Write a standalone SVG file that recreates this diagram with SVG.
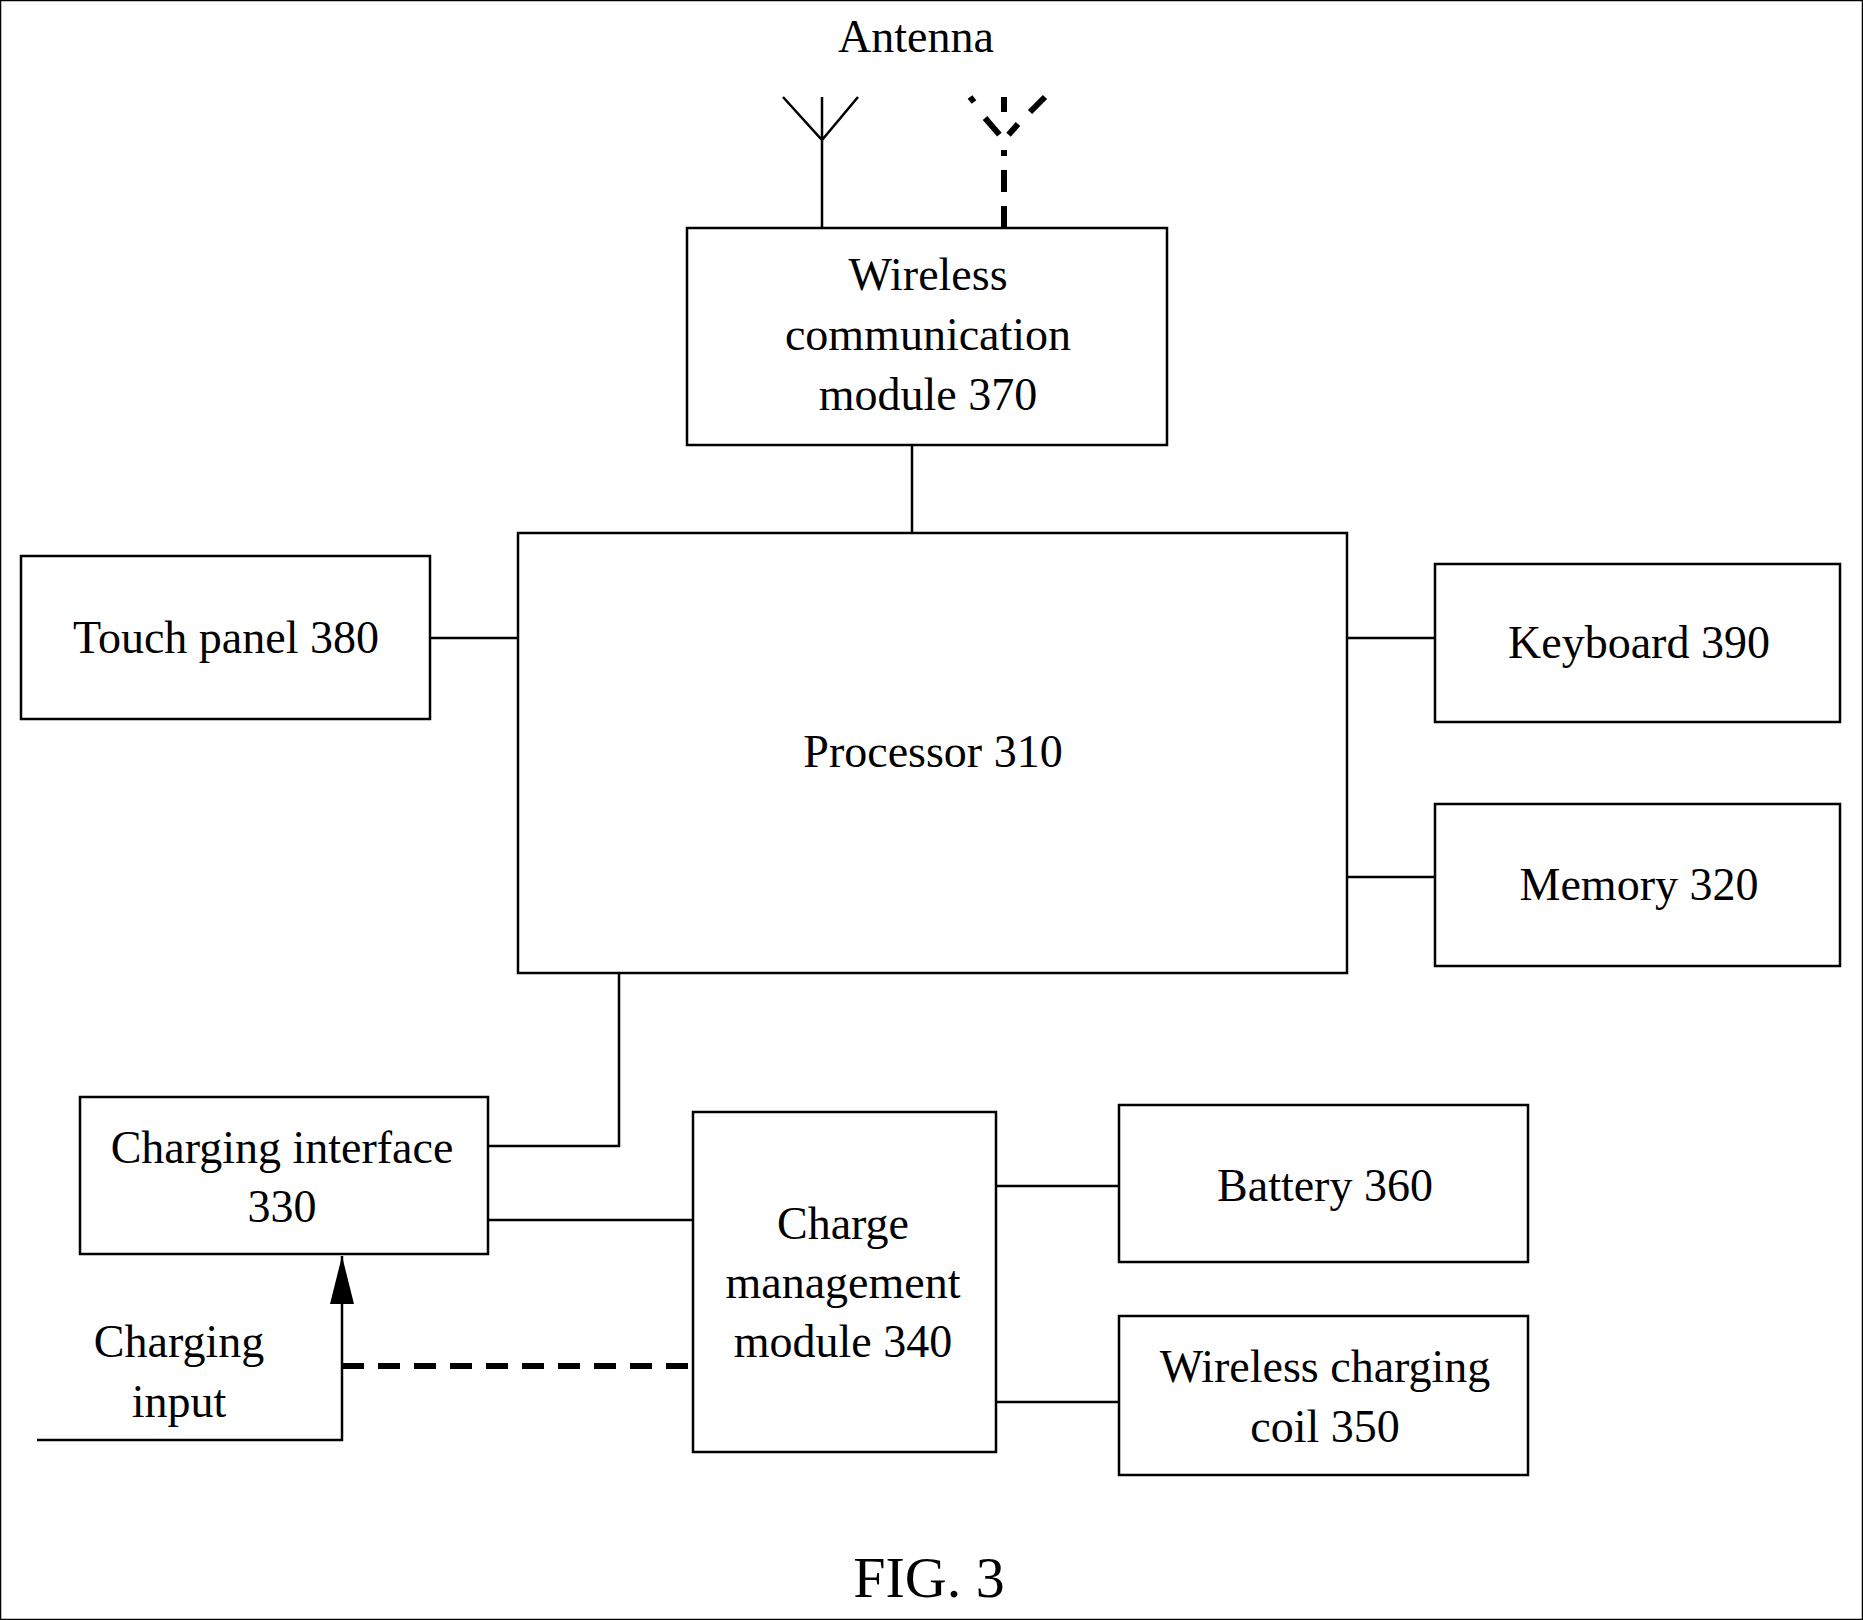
<svg xmlns="http://www.w3.org/2000/svg" width="1863" height="1620" viewBox="0 0 1863 1620">
<style>
text{font-family:"Liberation Serif",serif;font-size:46px;fill:#000;text-anchor:middle}
rect{fill:#fff;stroke:#000;stroke-width:2.5}
.l{stroke:#000;stroke-width:2.5;fill:none}
.d{stroke:#000;stroke-width:6;fill:none;stroke-dasharray:22 14}
</style>
<rect width="1863" height="1620" fill="#fff" stroke="none"/>
<text x="916" y="52">Antenna</text>
<g id="connectors">
<path class="l" d="M822,228 V97 M783,97 L822,140 L858,97"/>
<path class="d" d="M1004,228 V150" stroke-dasharray="30 20"/>
<path class="d" d="M970,97 L974,102 M1004,97 V112 M985,118 L1004,140 L1018,124 M1030,112 L1045,97" stroke-dasharray="none"/>
<path class="l" d="M912,445 V533"/>
<path class="l" d="M430,638 H518"/>
<path class="l" d="M1347,638 H1435"/>
<path class="l" d="M1347,877 H1435"/>
<path class="l" d="M619,973 V1146 H488"/>
<path class="l" d="M488,1220 H693"/>
<path class="l" d="M996,1186 H1119"/>
<path class="l" d="M996,1402 H1119"/>
<path class="l" d="M37,1440 H342 V1256"/>
<path d="M330,1304 L342,1256 L354,1304 Z" fill="#000"/>
<path class="d" d="M342,1366 H693" stroke-width="5"/>
</g>
<g id="n370"><rect x="687" y="228" width="480" height="217"/><text x="928" y="290">Wireless</text><text x="928" y="350">communication</text><text x="928" y="410">module 370</text></g>
<g id="n310"><rect x="518" y="533" width="829" height="440"/><text x="933" y="767">Processor 310</text></g>
<g id="n380"><rect x="21" y="556" width="409" height="163"/><text x="226" y="653">Touch panel 380</text></g>
<g id="n390"><rect x="1435" y="564" width="405" height="158"/><text x="1639" y="658">Keyboard 390</text></g>
<g id="n320"><rect x="1435" y="804" width="405" height="162"/><text x="1639" y="900">Memory 320</text></g>
<g id="n330"><rect x="80" y="1097" width="408" height="157"/><text x="282" y="1163">Charging interface</text><text x="282" y="1222">330</text></g>
<g id="n340"><rect x="693" y="1112" width="303" height="340"/><text x="843" y="1239">Charge</text><text x="843" y="1298">management</text><text x="843" y="1357">module 340</text></g>
<g id="n360"><rect x="1119" y="1105" width="409" height="157"/><text x="1325" y="1201">Battery 360</text></g>
<g id="n350"><rect x="1119" y="1316" width="409" height="159"/><text x="1325" y="1382">Wireless charging</text><text x="1325" y="1442">coil 350</text></g>
<text x="179" y="1357">Charging</text><text x="179" y="1417">input</text>
<text x="929" y="1597" style="font-size:58px">FIG. 3</text>
</svg>
